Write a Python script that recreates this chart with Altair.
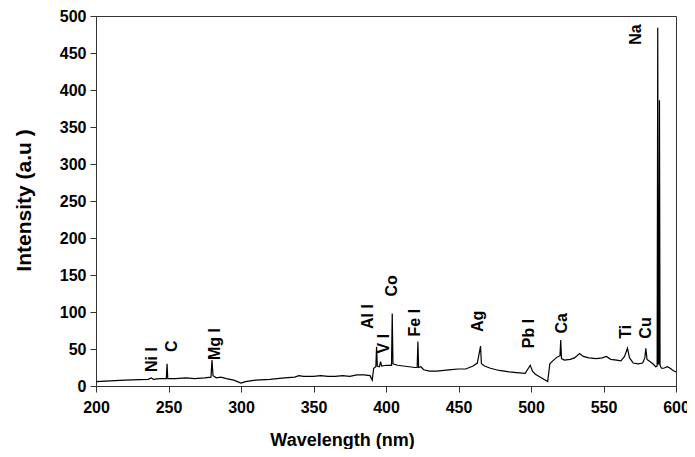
import altair as alt
import pandas as pd

wavelength = [200, 210, 220, 230, 236, 238, 239.5, 244, 248.5, 249, 249.5, 255, 262, 268, 275, 279.3,
              280, 280.7, 283, 286, 290, 295, 300, 303, 310, 320, 330, 337, 340, 343, 350, 355,
              360, 365, 370, 375, 380, 385, 389, 390.5, 391.5, 393, 393.5, 394, 395.5, 396.2, 397,
              400, 403.8, 404.3, 404.8, 408, 412, 416, 420, 421.5, 422, 422.5, 424, 426, 430, 435,
              440, 445, 450, 455, 460, 463, 465.2, 465.8, 468, 472, 478, 485, 490, 496, 499.5, 501,
              503, 508, 511.5, 513, 515, 518, 520, 520.5, 521, 523, 527, 530, 533.5, 536, 540, 545,
              549, 552, 555, 559, 562, 564.5, 566.5, 568, 570.5, 574, 577, 578.5, 579.2, 580, 582,
              584, 586, 587.0, 587.4, 587.8, 588.2, 588.6, 589.0, 590, 591.5, 594, 596, 598, 600]
intensity = [6, 7, 8, 8.5, 9, 11, 9, 10, 10, 30, 10, 10, 11, 10, 11, 12,
             35, 14, 11, 12, 10, 8, 4, 6, 8, 9, 11, 12, 14, 13, 13, 14,
             13, 13, 14, 13, 15, 15, 14, 8, 24, 26, 53, 27, 26, 33, 27,
             28, 28, 98, 30, 28, 27, 26, 25, 25, 60, 25, 26, 22, 20, 20,
             21, 22, 23, 23, 27, 31, 54, 30, 27, 24, 21, 19, 18, 17, 28, 20,
             16, 10, 6, 30, 34, 39, 41, 62, 37, 35, 36, 38, 44, 40, 38, 37,
             38, 40, 36, 35, 34, 40, 51, 38, 31, 30, 31, 38, 51, 36, 33,
             30, 26, 27, 484, 30, 30, 386, 28, 24, 24, 26, 24, 21, 19]

label_text = ["Ni I", "C", "Mg I", "Al I", "V I", "Co", "Fe I", "Ag", "Pb I", "Ca", "Ti", "Cu", "Na"]
label_wl = [238.4, 252.6, 282, 387.8, 398.8, 404.3, 420, 463.7, 498.8, 521.2, 565.5, 579.3, 572.4]
label_y = [19, 46, 35, 77, 44, 121, 67, 73, 51, 71, 64, 64, 461]

x_ticks = [200, 250, 300, 350, 400, 450, 500, 550, 600]
y_ticks = [0, 50, 100, 150, 200, 250, 300, 350, 400, 450, 500]

spec = pd.DataFrame({"wl": wavelength, "I": intensity})
labels = pd.DataFrame({"name": label_text, "wl": label_wl, "I": label_y})

xs = alt.Scale(domain=[200, 600], nice=False)
ys = alt.Scale(domain=[0, 500], nice=False)

x_axis = alt.Axis(title="Wavelength (nm)", values=x_ticks,
                  titleX=246, titleY=54, titleBaseline="middle", titleFontSize=18,
                  labelPadding=7, labelFlush=False, labelOverlap=False)
y_axis = alt.Axis(title="Intensity (a.u )", values=y_ticks,
                  titleX=-72, titleY=184, titleAngle=270, titleAlign="center",
                  titleBaseline="middle", titleFontSize=21, labelPadding=4,
                  labelFlush=False, labelOverlap=False)

line = alt.Chart(spec).mark_line(color="black", strokeWidth=1.2).encode(
    x=alt.X("wl:Q", scale=xs, axis=x_axis),
    y=alt.Y("I:Q", scale=ys, axis=y_axis),
)

text = alt.Chart(labels).mark_text(
    angle=270, align="left", baseline="middle", font="Liberation Sans",
    fontWeight="bold", fontSize=16, color="black"
).encode(x=alt.X("wl:Q", scale=xs, axis=x_axis),
         y=alt.Y("I:Q", scale=ys, axis=y_axis), text="name:N")

chart = (line + text).properties(
    width=580, height=370, autosize="none",
    padding={"left": 88, "top": 8, "right": 11, "bottom": 63},
).configure_axis(
    grid=False, domainColor="#333333", tickColor="#333333", tickSize=6,
    labelFont="Liberation Sans", labelFontWeight="bold", labelFontSize=16, labelColor="black",
    titleFont="Liberation Sans", titleFontWeight="bold", titleColor="black",
).configure_view(stroke="#333333", strokeWidth=1)

chart.save("out.html", embed_options={"renderer": "svg", "actions": False})
